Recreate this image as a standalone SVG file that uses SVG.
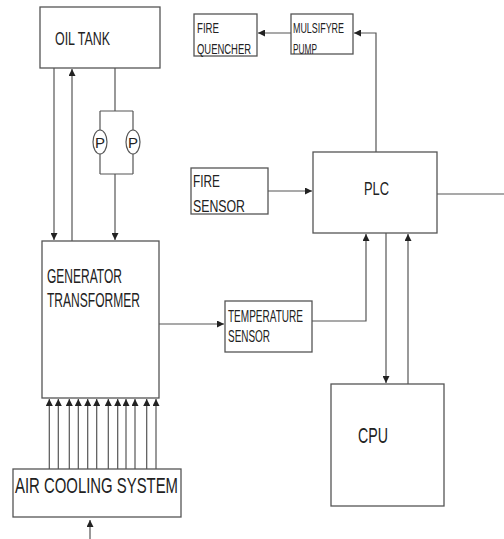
<svg xmlns="http://www.w3.org/2000/svg" width="504" height="539" viewBox="0 0 504 539">
<style>
.box{fill:#fff;stroke:#555;stroke-width:1.3}
.ln{fill:none;stroke:#555;stroke-width:1.2}
.t{font-family:"Liberation Sans",Arial,sans-serif;fill:#222}
</style>
<defs>
<marker id="ah" viewBox="0 0 10 10" refX="10" refY="5" markerWidth="7" markerHeight="7" markerUnits="userSpaceOnUse" orient="auto">
<path d="M0,0 L10,5 L0,10 z" fill="#222"/>
</marker>
</defs>
<rect width="504" height="539" fill="#fff"/>
<g id="connectors">
<path class="ln" d="M54,68 V240" marker-end="url(#ah)"/>
<path class="ln" d="M72,241 V69" marker-end="url(#ah)"/>
<path class="ln" d="M115,68 V111 M100,111 H133 M100,111 V174 M133,111 V174 M100,174 H133"/>
<path class="ln" d="M115,174 V240" marker-end="url(#ah)"/>
<path class="ln" d="M159,324 H224" marker-end="url(#ah)"/>
<path class="ln" d="M312,321 H366 V234" marker-end="url(#ah)"/>
<path class="ln" d="M386,233 V383" marker-end="url(#ah)"/>
<path class="ln" d="M408,384 V234" marker-end="url(#ah)"/>
<path class="ln" d="M268,191 H312" marker-end="url(#ah)"/>
<path class="ln" d="M376,152 V33 H354" marker-end="url(#ah)"/>
<path class="ln" d="M291,33 H258" marker-end="url(#ah)"/>
<path class="ln" d="M437,194 H504"/>
<path class="ln" d="M90,539 V520" marker-end="url(#ah)"/>
<g id="air-arrows">
<path class="ln" d="M49.3,469 V399" marker-end="url(#ah)"/>
<path class="ln" d="M58.3,469 V399" marker-end="url(#ah)"/>
<path class="ln" d="M69.3,469 V399" marker-end="url(#ah)"/>
<path class="ln" d="M78.3,469 V399" marker-end="url(#ah)"/>
<path class="ln" d="M87.7,469 V399" marker-end="url(#ah)"/>
<path class="ln" d="M96.7,469 V399" marker-end="url(#ah)"/>
<path class="ln" d="M108.3,469 V399" marker-end="url(#ah)"/>
<path class="ln" d="M117.7,469 V399" marker-end="url(#ah)"/>
<path class="ln" d="M126,469 V399" marker-end="url(#ah)"/>
<path class="ln" d="M135,469 V399" marker-end="url(#ah)"/>
<path class="ln" d="M146.7,469 V399" marker-end="url(#ah)"/>
<path class="ln" d="M156,469 V399" marker-end="url(#ah)"/>
</g>
</g>
<g id="pump1">
<ellipse cx="100" cy="142" rx="7" ry="12" fill="#fff" stroke="#555" stroke-width="1.2"/>
<text class="t" x="100" y="148" font-size="15" text-anchor="middle">P</text>
</g>
<g id="pump2">
<ellipse cx="133" cy="142" rx="7" ry="12" fill="#fff" stroke="#555" stroke-width="1.2"/>
<text class="t" x="133" y="148" font-size="15" text-anchor="middle">P</text>
</g>
<g id="oil-tank">
<rect class="box" x="40" y="7" width="120" height="61"/>
<text class="t" x="55" y="45" font-size="18" textLength="55" lengthAdjust="spacingAndGlyphs">OIL TANK</text>
</g>
<g id="generator-transformer">
<rect class="box" x="42" y="241" width="117" height="157"/>
<text class="t" x="47" y="283" font-size="20" textLength="75" lengthAdjust="spacingAndGlyphs">GENERATOR</text>
<text class="t" x="47" y="307" font-size="20" textLength="93" lengthAdjust="spacingAndGlyphs">TRANSFORMER</text>
</g>
<g id="air-cooling-system">
<rect class="box" x="13" y="469" width="168" height="48"/>
<text class="t" x="15" y="493" font-size="22" textLength="163" lengthAdjust="spacingAndGlyphs">AIR COOLING SYSTEM</text>
</g>
<g id="fire-quencher">
<rect class="box" x="194" y="14" width="63" height="42"/>
<text class="t" x="197" y="33" font-size="14" textLength="22" lengthAdjust="spacingAndGlyphs">FIRE</text>
<text class="t" x="197" y="54" font-size="14" textLength="54" lengthAdjust="spacingAndGlyphs">QUENCHER</text>
</g>
<g id="mulsifyre-pump">
<rect class="box" x="291" y="14" width="62" height="40"/>
<text class="t" x="293" y="33" font-size="14" textLength="51" lengthAdjust="spacingAndGlyphs">MULSIFYRE</text>
<text class="t" x="293" y="54" font-size="14" textLength="24" lengthAdjust="spacingAndGlyphs">PUMP</text>
</g>
<g id="fire-sensor">
<rect class="box" x="191" y="168" width="77" height="46"/>
<text class="t" x="193" y="187" font-size="17" textLength="27" lengthAdjust="spacingAndGlyphs">FIRE</text>
<text class="t" x="193" y="212" font-size="17" textLength="52" lengthAdjust="spacingAndGlyphs">SENSOR</text>
</g>
<g id="plc">
<rect class="box" x="313" y="152" width="124" height="81"/>
<text class="t" x="364" y="195" font-size="18" textLength="25" lengthAdjust="spacingAndGlyphs">PLC</text>
</g>
<g id="temperature-sensor">
<rect class="box" x="225" y="301" width="87" height="51"/>
<text class="t" x="228" y="322" font-size="17" textLength="75" lengthAdjust="spacingAndGlyphs">TEMPERATURE</text>
<text class="t" x="228" y="342" font-size="17" textLength="42" lengthAdjust="spacingAndGlyphs">SENSOR</text>
</g>
<g id="cpu">
<rect class="box" x="331" y="384" width="113" height="122"/>
<text class="t" x="358" y="443" font-size="22" textLength="30" lengthAdjust="spacingAndGlyphs">CPU</text>
</g>
</svg>
